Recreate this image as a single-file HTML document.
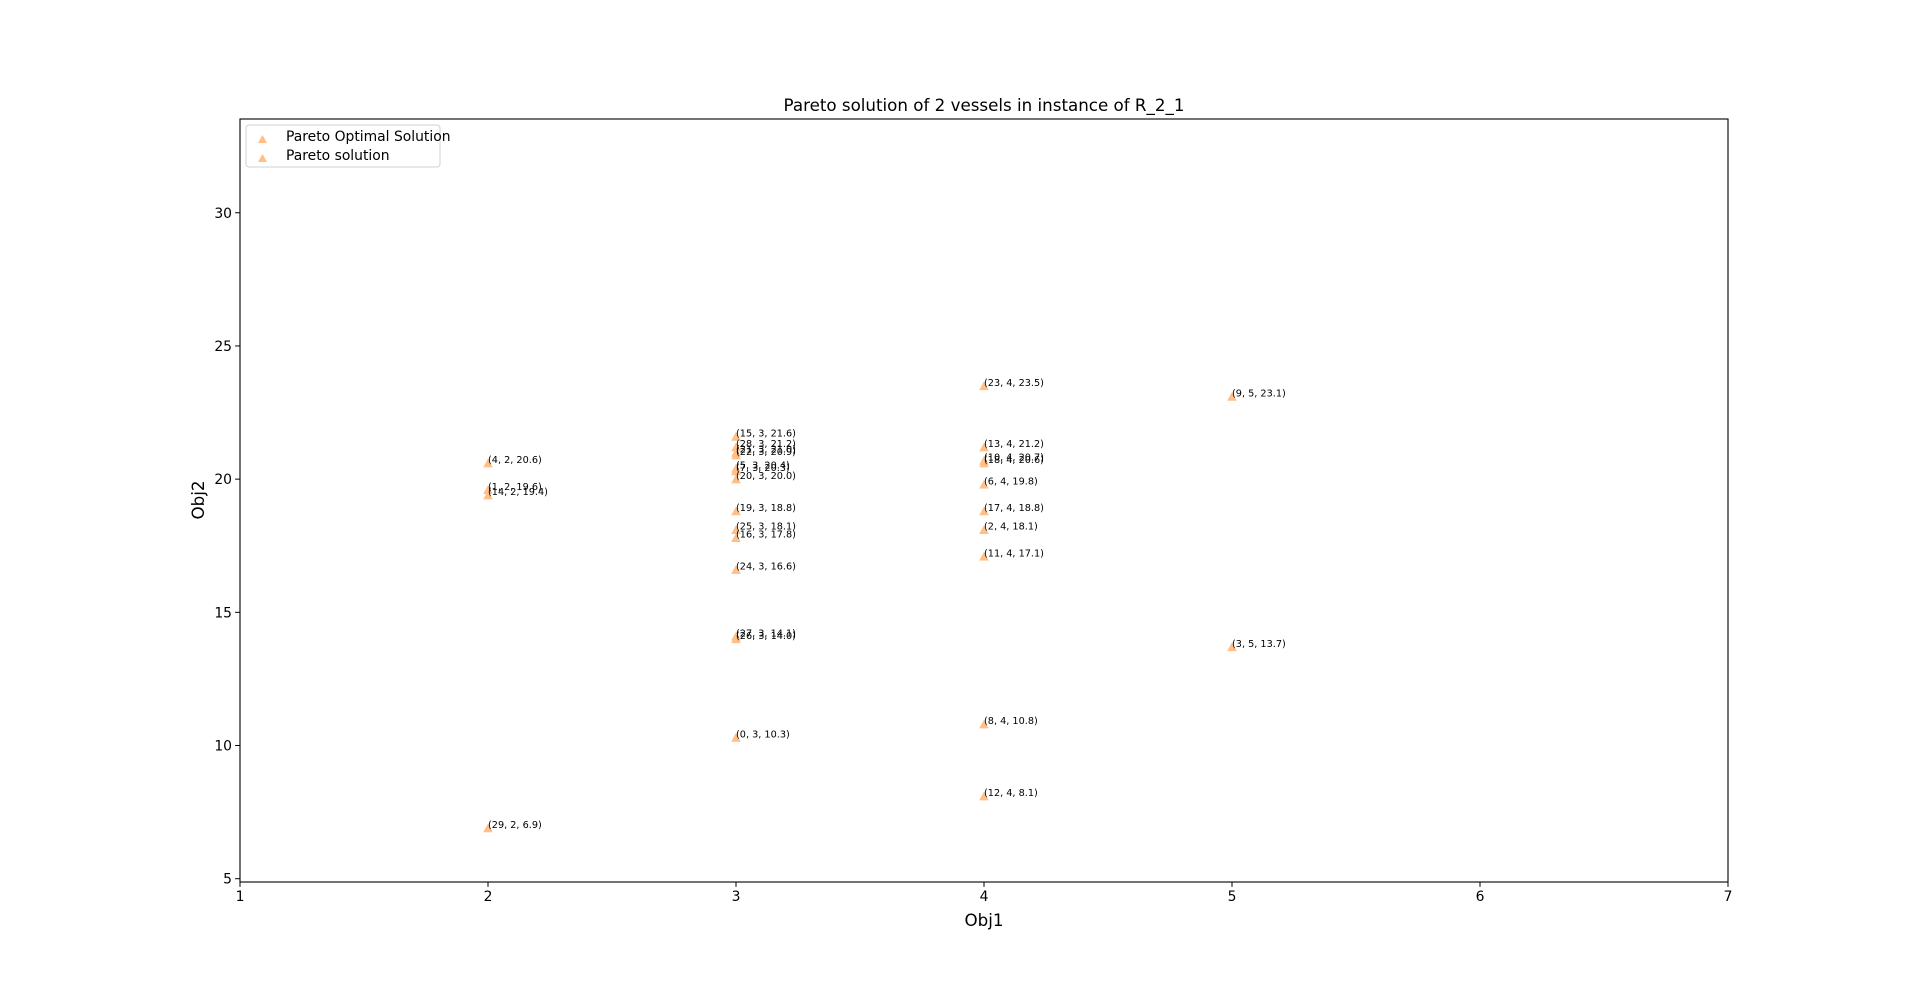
<!DOCTYPE html>
<html><head><meta charset="utf-8"><style>
html,body{margin:0;padding:0;background:#fff;}
svg{display:block;font-family:"DejaVu Sans","Liberation Sans",sans-serif;}
</style></head><body>
<svg id="chart" width="1920" height="991" viewBox="0 0 1920 991" xmlns="http://www.w3.org/2000/svg">
<rect width="1920" height="991" fill="#fff"/>
<text x="984" y="111" font-size="16.7" text-anchor="middle">Pareto solution of 2 vessels in instance of R_2_1</text>
<g id="marks"></g>
<g id="axes"></g>
<rect x="240" y="119" width="1488" height="763" fill="none" stroke="#000" stroke-width="1.1"/>
<text x="984" y="926" font-size="16.7" text-anchor="middle">Obj1</text>
<text x="204" y="500" font-size="16.7" text-anchor="middle" transform="rotate(-90 204 500)">Obj2</text>
<g>
<rect x="246" y="125" width="194" height="42" rx="3" fill="#fff" stroke="#d0d0d0"/>
<polygon points="258,143 267,143 262.5,135" fill="#ffbf86"/>
<text x="286" y="141" font-size="13.9">Pareto Optimal Solution</text>
<polygon points="258,162 267,162 262.5,154" fill="#ffbf86"/>
<text x="286" y="160" font-size="13.9">Pareto solution</text>
</g>
</svg>
<script>
const ids = [23,9,15,28,13,21,22,4,10,18,5,7,20,6,1,14,19,17,25,2,16,11,24,27,26,3,8,0,12,29];
const xVals = [4,5,3,3,4,3,3,2,4,4,3,3,3,4,2,2,3,4,3,4,3,4,3,3,3,5,4,3,4,2];
const yVals = [23.5,23.1,21.6,21.2,21.2,21.0,20.9,20.6,20.7,20.6,20.4,20.3,20.0,19.8,19.6,19.4,18.8,18.8,18.1,18.1,17.8,17.1,16.6,14.1,14.0,13.7,10.8,10.3,8.1,6.9];
const xTicks = [1,2,3,4,5,6,7];
const yTicks = [5,10,15,20,25,30];
const X0=240,X1=1728,Y0=882,Y1=119;
const xMin=1,xMax=7,yMin=4.876,yMax=33.52;
const sx=v=>X0+(v-xMin)/(xMax-xMin)*(X1-X0);
const sy=v=>Y0-(v-yMin)/(yMax-yMin)*(Y0-Y1);
const NS="http://www.w3.org/2000/svg";
const marks=document.getElementById('marks'), axes=document.getElementById('axes');
function mk(tag,attrs,parent){const e=document.createElementNS(NS,tag);for(const k in attrs)e.setAttribute(k,attrs[k]);parent.appendChild(e);return e;}
xTicks.forEach(t=>{
  const x=sx(t);
  const l=mk('line',{x1:x,x2:x,y1:Y0,y2:Y0+4.9,stroke:'#000','stroke-width':1},axes);
  
  
  const tx=mk('text',{x:x,y:Y0+19,'font-size':13.9,'text-anchor':'middle'},axes);
  tx.textContent=t;
  
  
});
yTicks.forEach(t=>{
  const y=sy(t);
  const l=mk('line',{x1:X0-4.9,x2:X0,y1:y,y2:y,stroke:'#000','stroke-width':1},axes);
  
  
  const tx=mk('text',{x:X0-8,y:y+5,'font-size':13.9,'text-anchor':'end'},axes);
  tx.textContent=t;
  
  
});
ids.forEach((id,i)=>{
  const x=sx(xVals[i]), y=sy(yVals[i]);
  const p=mk('polygon',{points:`${x-4.8},${y+4.2} ${x+4.8},${y+4.2} ${x},${y-4.6}`,fill:'#ffbf86'},marks);
  
  
});
ids.forEach((id,i)=>{
  const x=sx(xVals[i]), y=sy(yVals[i]);
  const t=mk('text',{x:x,y:y,'font-size':9.7},marks);
  t.textContent=`(${id}, ${xVals[i]}, ${yVals[i].toFixed(1)})`;
  
  
});
</script>
</body></html>
